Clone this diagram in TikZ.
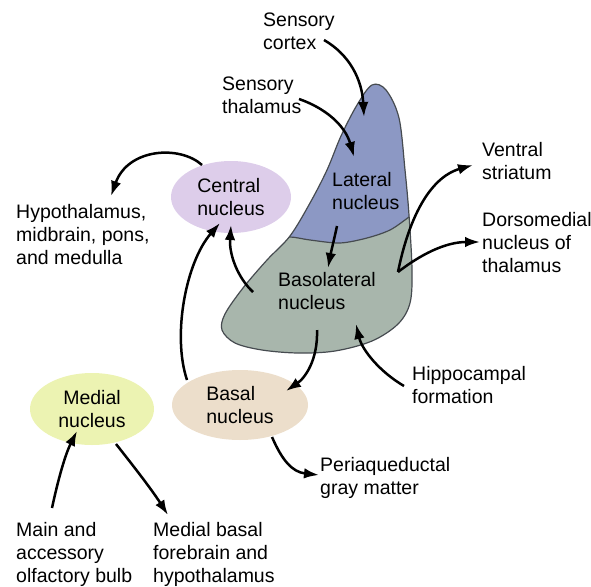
\documentclass[tikz,border=0pt]{standalone}
\usepackage{fontspec}
\setmainfont{Liberation Sans}
\usetikzlibrary{arrows.meta,shapes.geometric}
\definecolor{cenfill}{RGB}{221,205,234}
\definecolor{medfill}{RGB}{236,243,178}
\definecolor{basfill}{RGB}{236,222,203}
\definecolor{latfill}{RGB}{140,152,196}
\definecolor{blafill}{RGB}{168,182,172}
\definecolor{edgegray}{RGB}{70,75,80}
\newcommand{\amygoutline}{plot[smooth cycle,tension=0.55] coordinates {
    (372,85) (386,90) (399,118) (405,170) (409,215) (412,270) (410,303)
    (398,324) (372,341) (335,351) (298,353) (262,350) (235,343) (222,330)
    (225,314) (243,288) (267,260) (290,236) (310,203) (327,170) (341,136)
    (357,105)}}

\begin{document}
\begin{tikzpicture}[x=1pt,y=-1pt,>={Latex[length=15pt,width=10.5pt]},
    font=\fontsize{19.5}{23}\selectfont,
    lbl/.style={anchor=north west,align=left,inner sep=0pt},
    nuc/.style={ellipse,inner sep=0pt,align=left},
    conn/.style={->,line width=2.5pt},
    edge/.style={draw=edgegray,line width=1.2pt}]
  \useasboundingbox (0,0) rectangle (591,586);

  % amygdala: basolateral part with the lateral part on top
  \fill[blafill] \amygoutline;
  \begin{scope}
    \clip \amygoutline;
    \fill[latfill] plot[smooth] coordinates {(272,240) (290,237) (310,240)
      (340,243) (367,238) (390,230) (409,217) (425,205)}
      -- (430,60) -- (260,60) -- cycle;
    \draw[edge] plot[smooth] coordinates {(272,240) (290,237) (310,240)
      (340,243) (367,238) (390,230) (409,217) (425,205)};
  \end{scope}
  \draw[edge] \amygoutline;

  \node[lbl] (lat) at (332,172.5) {Lateral\\nucleus};
  \node[lbl] (bla) at (278,272.5) {Basolateral\\nucleus};

  % nuclei
  \node[nuc,fill=cenfill,minimum width=120,minimum height=72] (cen) at (231,197) {Central\\nucleus};
  \node[nuc,fill=medfill,minimum width=124,minimum height=72,align=center] (med) at (92,409) {Medial\\nucleus};
  \node[nuc,fill=basfill,minimum width=136,minimum height=70] (bas) at (240,405) {Basal\\nucleus};

  % inputs and targets
  \node[lbl] (sctx) at (263,12.5) {Sensory\\cortex};
  \node[lbl] (sthal) at (222,76.5) {Sensory\\thalamus};
  \node[lbl] (hyp) at (16,204.5) {Hypothalamus,\\midbrain, pons,\\and medulla};
  \node[lbl] (ventr) at (482,142.5) {Ventral\\striatum};
  \node[lbl] (dmt) at (482,212.5) {Dorsomedial\\nucleus of\\thalamus};
  \node[lbl] (hip) at (412,366.5) {Hippocampal\\formation};
  \node[lbl] (pag) at (320,457.5) {Periaqueductal\\gray matter};
  \node[lbl] (olf) at (16,522) {Main and\\accessory\\olfactory bulb};
  \node[lbl] (mbf) at (153,522) {Medial basal\\forebrain and\\hypothalamus};

  % arrow ends
  \coordinate (sctxOut) at (324,40);
  \coordinate (latIn1) at (364,117);
  \coordinate (sthalOut) at (299,99);
  \coordinate (latIn2) at (354,157);
  \coordinate (latOut) at (337,226);
  \coordinate (blaIn1) at (328,268);
  \coordinate (blaOut1) at (253,292);
  \coordinate (cenIn1) at (231,225);
  \coordinate (basOut1) at (187,380);
  \coordinate (cenIn2) at (220,223);
  \coordinate (cenOut) at (202,165);
  \coordinate (hypIn) at (111,196);
  \coordinate (blaOut2) at (317,330);
  \coordinate (basIn) at (286,391);
  \coordinate (hipOut) at (404,386);
  \coordinate (blaIn2) at (356,324);
  \coordinate (blaOut3) at (398,272);
  \coordinate (ventrIn) at (473,165);
  \coordinate (dmtIn) at (480,242);
  \coordinate (basOut2) at (272,437);
  \coordinate (pagIn) at (319,475);
  \coordinate (olfOut) at (52,508);
  \coordinate (medIn) at (77,431);
  \coordinate (medOut) at (116,444);
  \coordinate (mbfIn) at (168,515);

  \draw[conn] (sctxOut) .. controls (350,55) and (362,80) .. (latIn1);
  \draw[conn] (sthalOut) .. controls (325,108) and (345,125) .. (latIn2);
  \draw[conn] (latOut) .. controls (334,240) and (331,252) .. (blaIn1);
  \draw[conn] (blaOut1) .. controls (238,278) and (229,255) .. (cenIn1);
  \draw[conn] (basOut1) .. controls (172,335) and (186,262) .. (cenIn2);
  \draw[conn] (cenOut) .. controls (180,145) and (128,148) .. (hypIn);
  \draw[conn] (blaOut2) .. controls (318,360) and (305,378) .. (basIn);
  \draw[conn] (hipOut) .. controls (380,372) and (362,350) .. (blaIn2);
  \draw[conn] (blaOut3) .. controls (408,222) and (428,178) .. (ventrIn);
  \draw[conn] (blaOut3) .. controls (420,255) and (445,242) .. (dmtIn);
  \draw[conn] (basOut2) .. controls (282,460) and (292,472) .. (pagIn);
  \draw[conn] (olfOut) .. controls (58,480) and (65,455) .. (medIn);
  \draw[conn] (medOut) .. controls (135,468) and (152,490) .. (mbfIn);
\end{tikzpicture}
\end{document}
